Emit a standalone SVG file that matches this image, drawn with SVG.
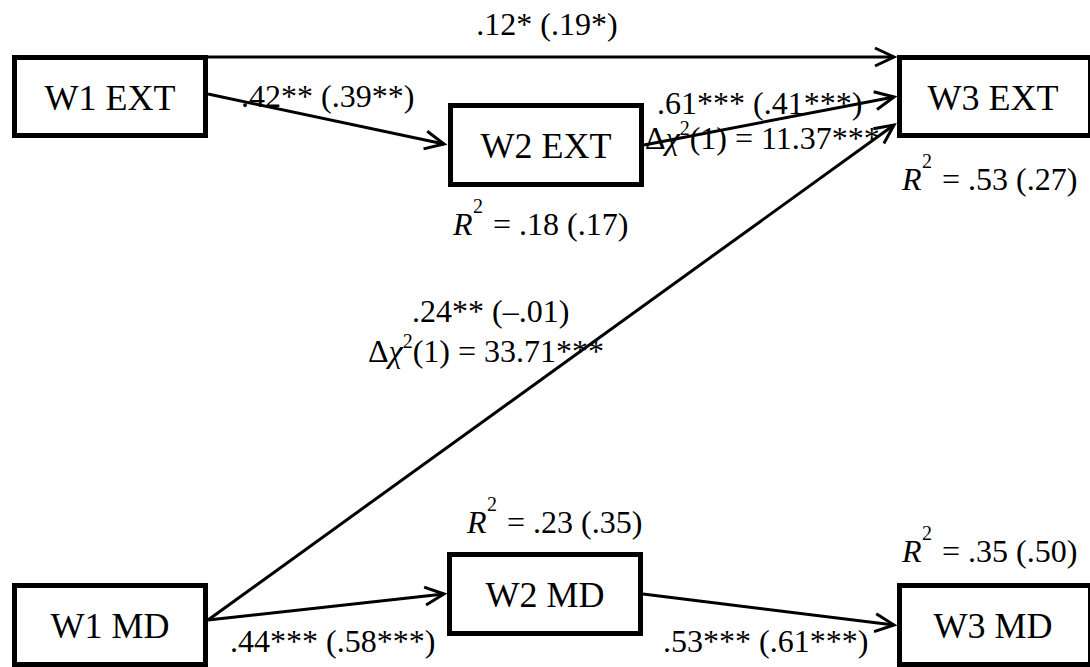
<svg xmlns="http://www.w3.org/2000/svg" width="1090" height="667" viewBox="0 0 1090 667" font-family="Liberation Serif, Times New Roman, serif">
<style>
.box{fill:#fff;stroke:#000;stroke-width:5}
.nt{font-size:36px;text-anchor:middle;fill:#000}
.lb{font-size:32px;fill:#000}
.edge{stroke:#000;stroke-width:3;fill:none;marker-end:url(#arr)}
.it{font-style:italic}
.sup{font-size:20px}
</style>
<defs>
<marker id="arr" viewBox="-22 -12 26 24" refX="0" refY="0" markerWidth="26" markerHeight="24" markerUnits="userSpaceOnUse" orient="auto">
<path d="M-19,-9 L0,0 L-19,9" fill="none" stroke="#000" stroke-width="3"/>
</marker>
</defs>
<rect width="1090" height="667" fill="#fff"/>
<g id="connectors">
<line class="edge" x1="208" y1="57" x2="894" y2="57"/>
<line class="edge" x1="208" y1="94" x2="444" y2="144"/>
<line class="edge" x1="644" y1="145" x2="894" y2="97"/>
<line class="edge" x1="208" y1="620" x2="894" y2="125"/>
<line class="edge" x1="208" y1="620" x2="444" y2="594"/>
<line class="edge" x1="643" y1="594" x2="894" y2="625"/>
</g>
<g id="labels">
<text class="lb" x="547" y="35" text-anchor="middle">.12* (.19*)</text>
<text class="lb" x="241" y="107">.42** (.39**)</text>
<text class="lb" x="657" y="114">.61*** (.41***)</text>
<text class="lb" x="645" y="149">Δ<tspan class="it">χ</tspan><tspan class="sup" dy="-14">2</tspan><tspan dy="14">(1) = 11.37***</tspan></text>
<text class="lb" x="412" y="322">.24** (–.01)</text>
<text class="lb" x="368" y="362">Δ<tspan class="it">χ</tspan><tspan class="sup" dy="-14">2</tspan><tspan dy="14">(1) = 33.71***</tspan></text>
<text class="lb" x="230" y="652">.44*** (.58***)</text>
<text class="lb" x="663" y="652">.53*** (.61***)</text>
</g>
<g id="r2">
<text class="lb" x="453" y="235"><tspan class="it">R</tspan><tspan class="sup" x="473" dy="-22">2</tspan><tspan x="493" dy="22">= .18 (.17)</tspan></text>
<text class="lb" x="902" y="190"><tspan class="it">R</tspan><tspan class="sup" x="922" dy="-22">2</tspan><tspan x="942" dy="22">= .53 (.27)</tspan></text>
<text class="lb" x="467" y="533"><tspan class="it">R</tspan><tspan class="sup" x="487" dy="-22">2</tspan><tspan x="507" dy="22">= .23 (.35)</tspan></text>
<text class="lb" x="902" y="562"><tspan class="it">R</tspan><tspan class="sup" x="922" dy="-22">2</tspan><tspan x="942" dy="22">= .35 (.50)</tspan></text>
</g>
<g id="W1EXT"><rect class="box" x="14.5" y="57.5" width="191" height="78"/><text class="nt" x="110" y="110">W1 EXT</text></g>
<g id="W2EXT"><rect class="box" x="450.5" y="105.5" width="191" height="79"/><text class="nt" x="546" y="158">W2 EXT</text></g>
<g id="W3EXT"><rect class="box" x="899.5" y="57.5" width="191" height="78"/><text class="nt" x="993" y="110">W3 EXT</text></g>
<g id="W1MD"><rect class="box" x="14.5" y="585.5" width="191" height="79"/><text class="nt" x="110" y="638">W1 MD</text></g>
<g id="W2MD"><rect class="box" x="449.5" y="554.5" width="191" height="79"/><text class="nt" x="545" y="607">W2 MD</text></g>
<g id="W3MD"><rect class="box" x="899.5" y="585.5" width="191" height="79"/><text class="nt" x="993" y="638">W3 MD</text></g>
</svg>
